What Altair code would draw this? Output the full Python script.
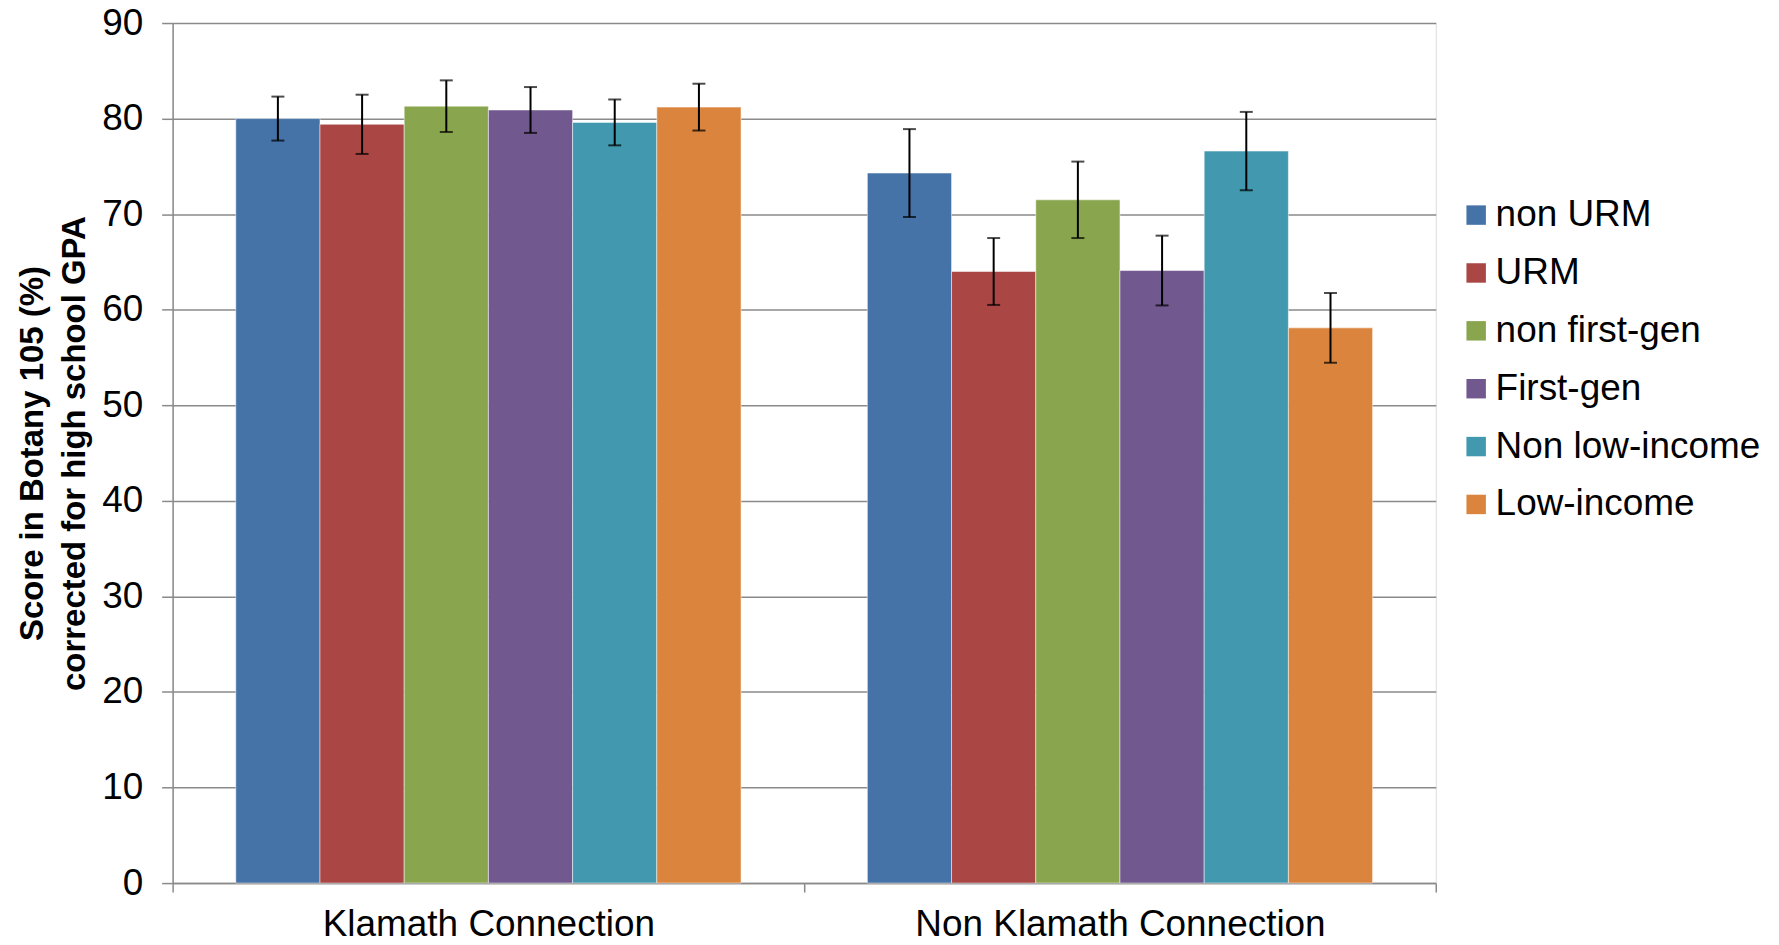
import altair as alt
import pandas as pd

groups = ["Klamath Connection", "Non Klamath Connection"]
series = ["non URM", "URM", "non first-gen", "First-gen", "Non low-income", "Low-income"]
colors = ["#4572A7", "#AA4643", "#89A54E", "#71588F", "#4198AF", "#DB843D"]

klamath_means = [80.0, 79.4, 81.3, 80.9, 79.6, 81.2]
klamath_err = [2.3, 3.1, 2.7, 2.4, 2.4, 2.45]
non_klamath_means = [74.3, 64.0, 71.5, 64.1, 76.6, 58.1]
non_klamath_err = [4.6, 3.5, 4.0, 3.65, 4.1, 3.65]

y_ticks = [0, 10, 20, 30, 40, 50, 60, 70, 80, 90]

rows = []
for g, means, errs in [(groups[0], klamath_means, klamath_err),
                       (groups[1], non_klamath_means, non_klamath_err)]:
    for s, m, e in zip(series, means, errs):
        rows.append({"group": g, "series": s, "mean": m, "lo": m - e, "hi": m + e})
df = pd.DataFrame(rows)

FONT = "Liberation Sans"
GRAY = "#8a8a8a"

x_enc = alt.X(
    "group:N", sort=groups,
    scale=alt.Scale(paddingInner=0, paddingOuter=0),
    axis=alt.Axis(title=None, labelAngle=0, labelFontSize=37, labelFont=FONT,
                  labelColor="black", labelPadding=15, labelLimit=800, tickBand="extent",
                  domainColor=GRAY, tickColor=GRAY, tickSize=9, domainWidth=1.5,
                  tickWidth=1.5, grid=False),
)
xoff_enc = alt.XOffset("series:N", sort=series,
                       scale=alt.Scale(paddingInner=0, paddingOuter=0.75))

base = alt.Chart(df).encode(x=x_enc, xOffset=xoff_enc)

bars = base.mark_bar(stroke="white", strokeWidth=1, strokeOpacity=0.5).encode(
    y=alt.Y("mean:Q",
            scale=alt.Scale(domain=[0, 90], nice=False),
            axis=alt.Axis(values=y_ticks, title=["Score in Botany 105 (%)", "corrected for high school GPA"],
                          titleFont=FONT, titleFontSize=33, titleFontWeight="bold",
                          titleColor="black", titleLineHeight=42, titlePadding=10,
                          labelFont=FONT, labelFontSize=37, labelColor="black",
                          labelPadding=19, tickSize=11, tickColor=GRAY, tickWidth=1.5,
                          domainColor=GRAY, domainWidth=1.5,
                          grid=True, gridColor=GRAY, gridWidth=1.5)),
    color=alt.Color("series:N", sort=series,
                    scale=alt.Scale(domain=series, range=colors),
                    legend=alt.Legend(title=None, orient="none", legendX=1288, legendY=174,
                                      symbolType="square", symbolSize=380,
                                      symbolStrokeWidth=0, labelFontSize=37,
                                      labelFont=FONT, labelColor="black",
                                      rowPadding=20, labelOffset=1,
                                      labelLimit=400)),
)

rules = base.mark_rule(color="black", strokeWidth=2).encode(
    y="lo:Q", y2="hi:Q")
caps_hi = base.mark_tick(color="black", size=13, thickness=2, orient="horizontal").encode(
    y="hi:Q")
caps_lo = base.mark_tick(color="black", size=13, thickness=2, orient="horizontal").encode(
    y="lo:Q")

chart = alt.layer(bars, rules, caps_hi, caps_lo).properties(
    width=1266, height=862,
    autosize=alt.AutoSizeParams(type="none"),
    padding={"left": 165, "top": 14, "right": 336, "bottom": 61},
).configure_view(stroke=None).configure(background="white")

chart.save("out.html", embed_options={"renderer": "svg", "actions": False})
